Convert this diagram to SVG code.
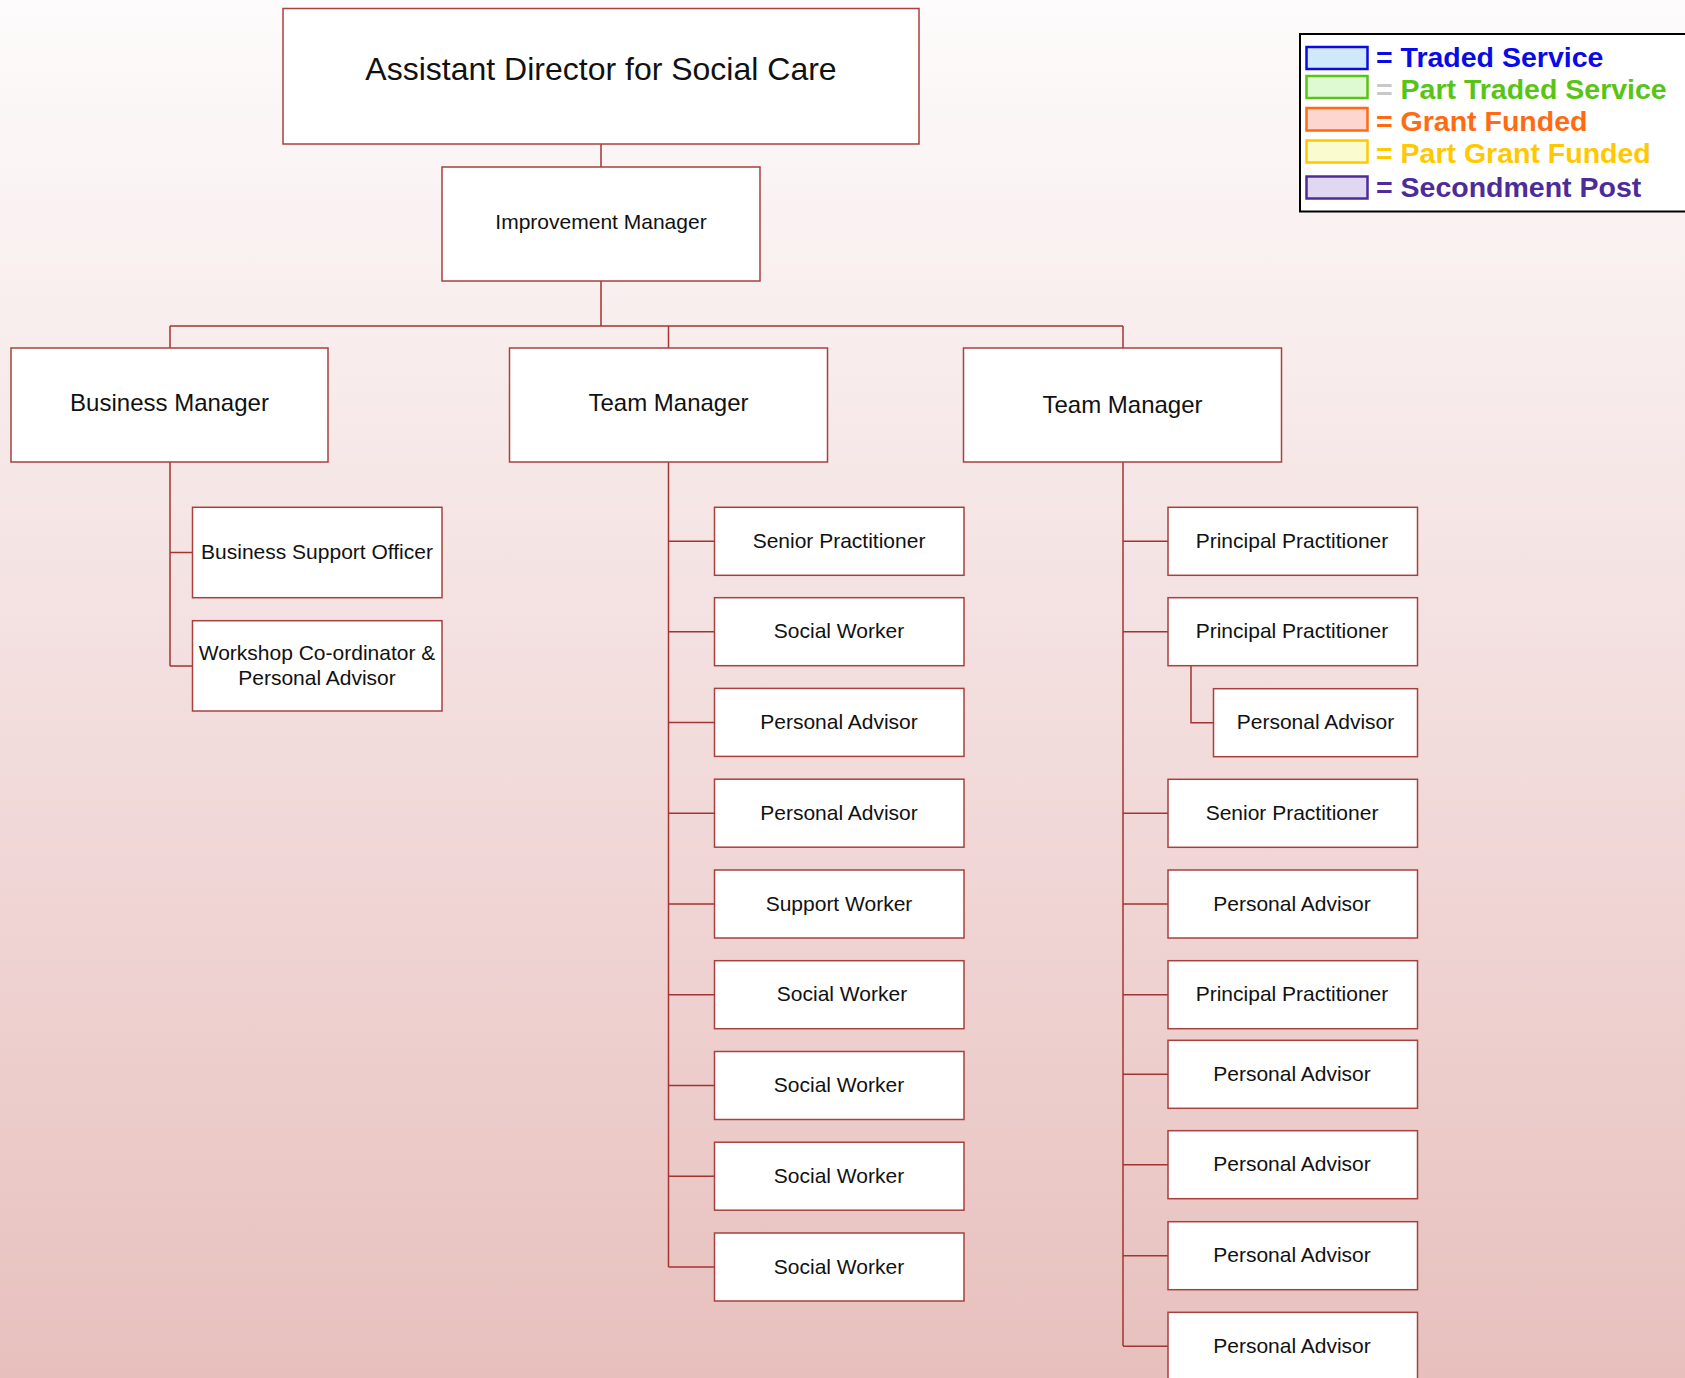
<svg xmlns="http://www.w3.org/2000/svg" width="1685" height="1378" viewBox="0 0 1685 1378">
<defs>
<linearGradient id="bg" x1="0" y1="0" x2="0" y2="1">
<stop offset="0" stop-color="#fdfbfb"/>
<stop offset="0.5" stop-color="#f3dede"/>
<stop offset="1" stop-color="#e7c0bd"/>
</linearGradient>
<style>
.box{fill:#ffffff;stroke:#a8403e;stroke-width:1.5}
.t{font-family:"Liberation Sans",Arial,sans-serif;fill:#111;text-anchor:middle}
.t21{font-size:21px}
.t24{font-size:24px}
.con{fill:none;stroke:#a23432;stroke-width:1.5}
.lg{font-family:"Liberation Sans",Arial,sans-serif;font-weight:bold;font-size:28.5px}
.sw{stroke-width:2.5}
</style>
</defs>
<rect x="0" y="0" width="1685" height="1378" fill="url(#bg)"/>

<g id="connectors">
<path class="con" d="M601 144V167"/>
<path class="con" d="M601 281V326M170 326H1123M170 326V348M668.5 326V348M1123 326V348"/>
<path class="con" d="M170 462V666M170 552.5H192.5M170 666H192.5"/>
<path class="con" d="M668.5 462V1267M668.5 541.3H714.5M668.5 631.7H714.5M668.5 722.4H714.5M668.5 813.2H714.5M668.5 904H714.5M668.5 994.7H714.5M668.5 1085.5H714.5M668.5 1176.2H714.5M668.5 1267H714.5"/>
<path class="con" d="M1123 462V1346M1123 541.3H1168M1123 631.7H1168M1123 813.3H1168M1123 904H1168M1123 994.7H1168M1123 1074.3H1168M1123 1164.7H1168M1123 1255.7H1168M1123 1346.3H1168"/>
<path class="con" d="M1191 665.7V722.7H1213.5"/>
</g>

<g id="n-ad"><rect class="box" x="283" y="8.5" width="636" height="135.5"/><text class="t" x="601" y="80" font-size="32">Assistant Director for Social Care</text></g>
<g id="n-im"><rect class="box" x="442" y="167" width="318" height="114"/><text class="t t21" x="601" y="229">Improvement Manager</text></g>

<g id="n-bm"><rect class="box" x="11" y="348" width="317" height="114"/><text class="t t24" x="169.5" y="411">Business Manager</text></g>
<g id="n-tm1"><rect class="box" x="509.5" y="348" width="318" height="114"/><text class="t t24" x="668.5" y="411">Team Manager</text></g>
<g id="n-tm2"><rect class="box" x="963.5" y="348" width="318" height="114"/><text class="t t24" x="1122.5" y="413">Team Manager</text></g>

<g id="n-bso"><rect class="box" x="192.5" y="507.3" width="249.5" height="90.4"/><text class="t t21" x="317" y="559">Business Support Officer</text></g>
<g id="n-wc"><rect class="box" x="192.5" y="620.7" width="249.5" height="90.3"/><text class="t t21" x="317" y="660">Workshop Co-ordinator &amp;</text><text class="t t21" x="317" y="685">Personal Advisor</text></g>

<g id="n-l1"><rect class="box" x="714.5" y="507.3" width="249.5" height="68"/><text class="t t21" x="839" y="548">Senior Practitioner</text></g>
<g id="n-l2"><rect class="box" x="714.5" y="597.7" width="249.5" height="68"/><text class="t t21" x="839" y="638.4">Social Worker</text></g>
<g id="n-l3"><rect class="box" x="714.5" y="688.4" width="249.5" height="68"/><text class="t t21" x="839" y="729.1">Personal Advisor</text></g>
<g id="n-l4"><rect class="box" x="714.5" y="779.2" width="249.5" height="68"/><text class="t t21" x="839" y="819.9">Personal Advisor</text></g>
<g id="n-l5"><rect class="box" x="714.5" y="870" width="249.5" height="68"/><text class="t t21" x="839" y="910.7">Support Worker</text></g>
<g id="n-l6"><rect class="box" x="714.5" y="960.7" width="249.5" height="68"/><text class="t t21" x="842" y="1001.4">Social Worker</text></g>
<g id="n-l7"><rect class="box" x="714.5" y="1051.5" width="249.5" height="68"/><text class="t t21" x="839" y="1092.2">Social Worker</text></g>
<g id="n-l8"><rect class="box" x="714.5" y="1142.2" width="249.5" height="68"/><text class="t t21" x="839" y="1182.9">Social Worker</text></g>
<g id="n-l9"><rect class="box" x="714.5" y="1233" width="249.5" height="68"/><text class="t t21" x="839" y="1273.7">Social Worker</text></g>

<g id="n-r1"><rect class="box" x="1168" y="507.3" width="249.5" height="68"/><text class="t t21" x="1292" y="548">Principal Practitioner</text></g>
<g id="n-r2"><rect class="box" x="1168" y="597.7" width="249.5" height="68"/><text class="t t21" x="1292" y="638.4">Principal Practitioner</text></g>
<g id="n-r2a"><rect class="box" x="1213.5" y="688.7" width="204" height="68"/><text class="t t21" x="1315.5" y="729.4">Personal Advisor</text></g>
<g id="n-r3"><rect class="box" x="1168" y="779.3" width="249.5" height="68"/><text class="t t21" x="1292" y="820">Senior Practitioner</text></g>
<g id="n-r4"><rect class="box" x="1168" y="870" width="249.5" height="68"/><text class="t t21" x="1292" y="910.7">Personal Advisor</text></g>
<g id="n-r5"><rect class="box" x="1168" y="960.7" width="249.5" height="68"/><text class="t t21" x="1292" y="1001.4">Principal Practitioner</text></g>
<g id="n-r6"><rect class="box" x="1168" y="1040.3" width="249.5" height="68"/><text class="t t21" x="1292" y="1081">Personal Advisor</text></g>
<g id="n-r7"><rect class="box" x="1168" y="1130.7" width="249.5" height="68"/><text class="t t21" x="1292" y="1171.4">Personal Advisor</text></g>
<g id="n-r8"><rect class="box" x="1168" y="1221.7" width="249.5" height="68"/><text class="t t21" x="1292" y="1262.4">Personal Advisor</text></g>
<g id="n-r9"><rect class="box" x="1168" y="1312.3" width="249.5" height="68"/><text class="t t21" x="1292" y="1353">Personal Advisor</text></g>

<g id="legend">
<rect x="1300" y="34" width="400" height="177.5" fill="#ffffff" stroke="#000000" stroke-width="2"/>
<rect class="sw" x="1306.5" y="47" width="61" height="22" fill="#cfe9fb" stroke="#0a0ae6"/>
<rect class="sw" x="1306.5" y="76" width="61" height="22" fill="#ddfad2" stroke="#58c414"/>
<rect class="sw" x="1306.5" y="108" width="61" height="22.5" fill="#fdd6cf" stroke="#ff6a12"/>
<rect class="sw" x="1306.5" y="140.5" width="61" height="22" fill="#fbfbd0" stroke="#ffc800"/>
<rect class="sw" x="1306.5" y="176.5" width="61" height="22" fill="#e0d8f3" stroke="#4d2c9a"/>
<text class="lg" x="1376" y="67" fill="#0a0ae6">= Traded Service</text>
<text class="lg" x="1376" y="99"><tspan fill="#c8c8c8">=</tspan><tspan fill="#58c414"> Part Traded Service</tspan></text>
<text class="lg" x="1376" y="131" fill="#ff6a12">= Grant Funded</text>
<text class="lg" x="1376" y="163" fill="#ffc800">= Part Grant Funded</text>
<text class="lg" x="1376" y="197" fill="#4d2c9a">= Secondment Post</text>
</g>
</svg>
